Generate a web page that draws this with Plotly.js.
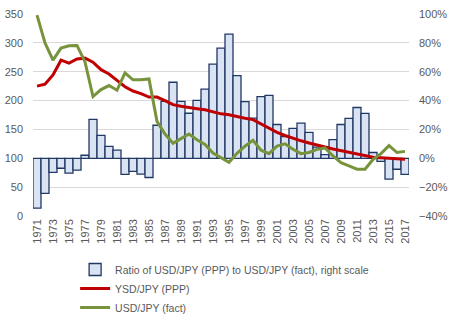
<!DOCTYPE html>
<html>
<head>
<meta charset="utf-8">
<script src="https://cdn.plot.ly/plotly-3.0.1.min.js"></script>
<style>html,body{margin:0;padding:0;background:#fff;}#chart{width:452px;height:324px;}</style>
</head>
<body>
<div id="chart"></div>
<script>
var years = [1971,1972,1973,1974,1975,1976,1977,1978,1979,1980,1981,1982,1983,1984,1985,1986,1987,1988,1989,1990,1991,1992,1993,1994,1995,1996,1997,1998,1999,2000,2001,2002,2003,2004,2005,2006,2007,2008,2009,2010,2011,2012,2013,2014,2015,2016,2017];
var ratioPct = [-34.5,-24.3,-9.8,-6.9,-10.3,-8.2,2.1,27.0,15.9,8.3,5.6,-11.1,-9.1,-11.0,-13.3,22.9,39.4,52.7,39.4,31.2,40.2,47.9,65.2,76.3,86.0,57.3,39.3,27.8,42.8,43.6,23.4,15.1,20.7,24.3,17.9,7.7,2.5,13.0,23.4,27.6,35.2,31.1,4.0,-2.2,-14.5,-7.6,-11.1];
var usdJpyPPP = [225,228.5,244.5,270,265,272,273.5,266.5,253.5,246,235,224,216.5,212,206,206,200,193,190,187.5,186,184,180.5,177,175.5,172,169.5,167,160,152,145,139.5,134.5,130.3,126.5,122.5,119.5,116,113,110,107,104.6,101.7,101,100.6,100,98.5];
var usdJpyFact = [348,300,270,291,295,295.5,267,207,219,226,218,248,236,236,237.5,164,142,126,134,142,132,124,109,100.5,93,108.6,121,131,114,108,121,125,115.5,108,110,115.5,118,104,92.5,87,81,81,98,108,122,110,112];
var tickYears = years.filter(function(y){return y % 2 === 1;});

var cats = years.map(String);
var ratio = ratioPct.map(function(v){return v/100;});

var font = "Liberation Sans, Arial, sans-serif";
var grey = "#595959";

var traces = [
  {type:'bar', x:cats, y:ratio, yaxis:'y', name:'Ratio of USD/JPY (PPP) to USD/JPY (fact), right scale',
   marker:{color:'#dae3f3', line:{color:'#203864', width:1.3}}, hoverinfo:'x+y'},
  {type:'scatter', mode:'lines', x:cats, y:usdJpyPPP, yaxis:'y2', name:'YSD/JPY (PPP)',
   line:{color:'#c00000', width:3}},
  {type:'scatter', mode:'lines', x:cats, y:usdJpyFact, yaxis:'y2', name:'USD/JPY (fact)',
   line:{color:'#77933c', width:3}}
];

var layout = {
  width:452, height:324,
  margin:{l:33, r:43, t:14, b:108, autoexpand:false},
  paper_bgcolor:'#fff', plot_bgcolor:'#fff',
  font:{family:font, size:11, color:grey},
  showlegend:true,
  bargap:0,
  xaxis:{type:'category', tickmode:'array', tickvals:tickYears.map(String), ticktext:tickYears.map(String),
         tickangle:-90, showgrid:false, zeroline:false, showline:false, ticks:'',
         tickfont:{family:font, size:11, color:grey}, range:[-0.5,46.5]},
  yaxis:{side:'right', range:[-0.4,1.0], dtick:0.2, tick0:0, tickformat:'.0%', showgrid:true, gridcolor:'#d9d9d9', gridwidth:1,
         zeroline:false, showline:false, ticks:'', ticklabelstandoff:9, tickfont:{family:font, size:11, color:grey}},
  yaxis2:{overlaying:'y', side:'left', range:[0,350], dtick:50, tick0:0, showgrid:false, zeroline:false, showline:false,
          ticks:'', ticklabelstandoff:9, tickfont:{family:font, size:11, color:grey}},
  legend:{orientation:'v', x:0.112, xanchor:'left', y:-0.193, yanchor:'top', yref:'paper',
          font:{family:font, size:10.5, color:grey}, bgcolor:'rgba(0,0,0,0)', traceorder:'normal'}
};

Plotly.newPlot('chart', traces, layout, {displayModeBar:false, staticPlot:true});
</script>
</body>
</html>
